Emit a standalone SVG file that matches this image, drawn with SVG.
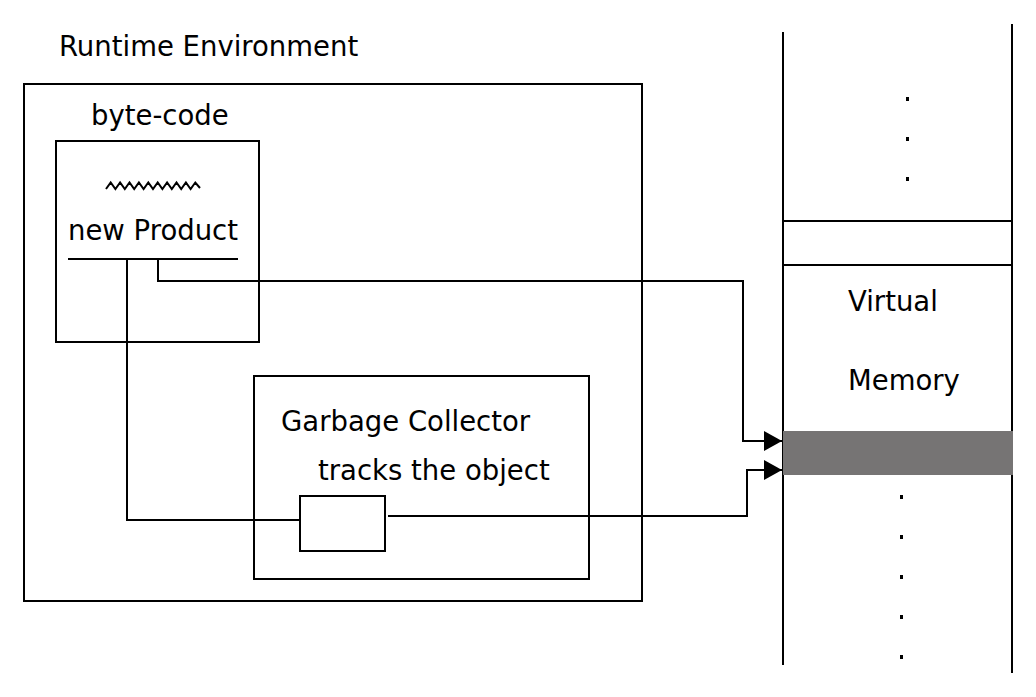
<svg xmlns="http://www.w3.org/2000/svg" width="1036" height="697" viewBox="0 0 1036 697">
<defs>
<style>
.t{font-family:"DejaVu Sans","Liberation Sans",sans-serif;font-size:27.5px;fill:#000}
.box{fill:none;stroke:#000;stroke-width:2}
.ln{fill:none;stroke:#000;stroke-width:2}
.dot{fill:#000}
</style>
<marker id="arr" markerWidth="18" markerHeight="20" refX="18" refY="10" orient="auto" markerUnits="userSpaceOnUse">
<path d="M0,0 L18,10 L0,20 Z" fill="#000"/>
</marker>
</defs>
<rect width="1036" height="697" fill="#fff"/>

<g id="runtime-environment">
<rect class="box" x="24" y="84" width="618" height="517"/>
<text class="t" x="59" y="56">Runtime Environment</text>
</g>

<g id="byte-code">
<rect class="box" x="56" y="141" width="203" height="201"/>
<text class="t" x="91" y="125">byte-code</text>
<polyline class="ln" stroke-width="1.5" points="106,189 110.7,182.5 115.4,189 120.1,182.5 124.8,189 129.5,182.5 134.2,189 138.9,182.5 143.6,189 148.3,182.5 153,189 157.7,182.5 162.4,189 167.1,182.5 171.8,189 176.5,182.5 181.2,189 185.9,182.5 190.6,189 195.3,182.5 200,188"/>
<text class="t" x="68" y="240">new Product</text>
<line class="ln" x1="68" y1="259" x2="238" y2="259"/>
</g>

<g id="garbage-collector">
<rect class="box" x="254" y="376" width="335" height="203"/>
<text class="t" x="281" y="431">Garbage Collector</text>
<text class="t" x="318" y="480">tracks the object</text>
</g>

<g id="tracked-object">
<rect class="box" x="300" y="496" width="85" height="55"/>
</g>

<g id="virtual-memory">
<line class="ln" x1="783" y1="32" x2="783" y2="665"/>
<line class="ln" x1="1012" y1="24" x2="1012" y2="673"/>
<line class="ln" x1="783" y1="221" x2="1012" y2="221"/>
<line class="ln" x1="783" y1="265" x2="1012" y2="265"/>
<rect x="783" y="431" width="230" height="44" fill="#767474"/>
<text class="t" x="848" y="311">Virtual</text>
<text class="t" x="848" y="390">Memory</text>
<rect class="dot" x="906" y="97" width="3" height="4"/>
<rect class="dot" x="906" y="137" width="3" height="4"/>
<rect class="dot" x="906" y="177" width="3" height="4"/>
<rect class="dot" x="900" y="495" width="3" height="4"/>
<rect class="dot" x="900" y="535" width="3" height="4"/>
<rect class="dot" x="900" y="575" width="3" height="4"/>
<rect class="dot" x="900" y="615" width="3" height="4"/>
<rect class="dot" x="900" y="655" width="3" height="4"/>
</g>

<g id="connectors">
<polyline class="ln" points="158,259 158,281 743,281 743,441 782,441" marker-end="url(#arr)"/>
<polyline class="ln" points="127,259 127,520 300,520"/>
<polyline class="ln" points="388,516 747,516 747,470 782,470" marker-end="url(#arr)"/>
</g>
</svg>
